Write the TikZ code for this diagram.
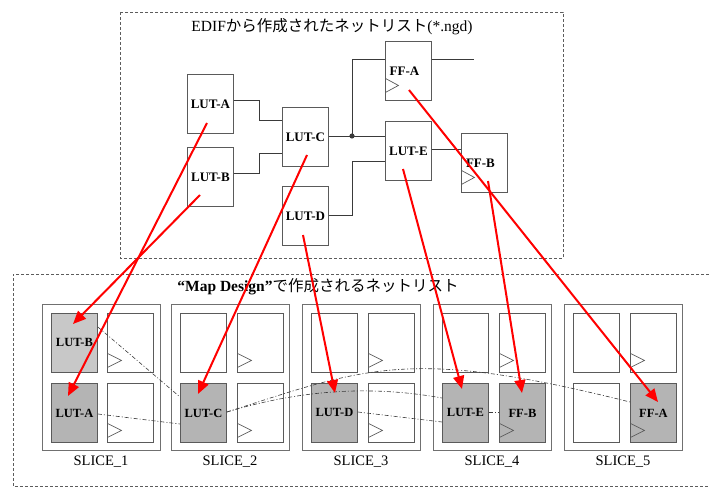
\documentclass[tikz,border=0pt]{standalone}
\usepackage{fontspec}
\setmainfont{Liberation Serif}
\newfontfamily\jpfont{Noto Sans CJK JP}
\usetikzlibrary{arrows.meta,calc}

\definecolor{boxgray}{HTML}{5A5A5A}
\definecolor{slicegray}{HTML}{707070}
\definecolor{wiregray}{HTML}{3A3A3A}
\definecolor{lutfill}{HTML}{B4B4B4}
\definecolor{lutfillB}{HTML}{C8C8C8}
\definecolor{netred}{HTML}{FF0000}
\definecolor{dashgray}{HTML}{5C5C5C}
\definecolor{netgray}{HTML}{3C3C3C}

\tikzset{
  topblk/.style={draw=boxgray, line width=0.9pt, minimum width=46pt, minimum height=59pt,
    inner sep=0pt, anchor=north west, font=\bfseries\fontsize{13}{15}\selectfont},
  clktop/.style={path picture={\draw[boxgray,line width=0.7pt]
    ([yshift=8pt]path picture bounding box.south west) -- ++(13pt,7pt) -- ++(-13pt,7pt);}},
  cell/.style={draw=boxgray, line width=0.9pt, fill=white, minimum width=46pt, minimum height=59pt,
    inner sep=0pt, anchor=north west, font=\bfseries\fontsize{12.5}{14}\selectfont},
  clkcell/.style={path picture={\draw[boxgray,line width=0.7pt]
    ([yshift=5pt]path picture bounding box.south west) -- ++(14pt,7pt) -- ++(-14pt,7pt);}},
  usedA/.style={fill=lutfill},
  usedB/.style={fill=lutfillB},
  slicebox/.style={draw=slicegray, line width=0.9pt, minimum width=118pt, minimum height=146pt,
    inner sep=0pt, anchor=north west},
  slicelbl/.style={font=\fontsize{14.5}{16}\selectfont, inner sep=0pt},
  wire/.style={draw=wiregray, line width=0.9pt},
  net/.style={draw=netgray, line width=0.6pt, dash pattern=on 4pt off 2pt on 1pt off 2pt},
  redarr/.style={draw=netred, line width=2pt, -{Triangle[length=13pt,width=11pt]}},
  framebox/.style={draw=dashgray, line width=0.8pt, dash pattern=on 3pt off 2pt},
}

\begin{document}
\begin{tikzpicture}[x=1pt,y=-1pt]
\useasboundingbox (0,0) rectangle (709,489);

% ---------- upper frame ----------
\draw[framebox] (120,12) rectangle (563,258);
\node (ttl1) at (332,27) {\fontsize{15.5}{18}\selectfont EDIF{\jpfont から作成されたネットリスト}(*.ngd)};

\node[topblk] (lutA) at (187,74) {LUT-A};
\node[topblk] (lutB) at (187,147) {LUT-B};
\node[topblk] (lutC) at (282,107) {LUT-C};
\node[topblk] (lutD) at (282,186) {LUT-D};
\node[topblk,clktop] (ffA) at (385,41) {FF-A\kern8pt};
\node[topblk] (lutE) at (385,121) {LUT-E};
\node[topblk,clktop] (ffB) at (461,133) {FF-B\kern8pt};

\coordinate (jn) at (352,136);
\coordinate (outA) at (474,59);

\draw[wire] ($(lutA.north east)+(0,26)$) -| (259,120) -- ($(lutC.north west)+(0,13)$);
\draw[wire] ($(lutB.north east)+(0,26)$) -| (259,153) -- ($(lutC.north west)+(0,46)$);
\draw[wire] ($(lutC.north east)+(0,29)$) -- ($(lutE.north west)+(0,15)$);
\draw[wire] (jn) |- ($(ffA.north west)+(0,18)$);
\draw[wire] ($(ffA.north east)+(0,18)$) -- (outA);
\draw[wire] ($(lutD.north east)+(0,29)$) -| (352,161) -- ($(lutE.north west)+(0,40)$);
\draw[wire] ($(lutE.north east)+(0,28)$) -- ($(ffB.north west)+(0,16)$);
\fill[wiregray] (jn) circle (2.6pt);

% ---------- lower frame ----------
\draw[framebox] (709,274) -- (13,274) -- (13,486) -- (709,486);
\node (ttl2) at (318,287) {\fontsize{15.5}{18}\selectfont\textbf{“Map Design”}{\jpfont で作成されるネットリスト}};

% slices
\node[slicebox] (s1) at (42,304) {};
\node[slicebox] (s2) at (171,304) {};
\node[slicebox] (s3) at (302,304) {};
\node[slicebox] (s4) at (433,304) {};
\node[slicebox] (s5) at (564,304) {};

\node[cell,usedB] (s1tl) at (51,313) {LUT-B};
\node[cell,clkcell] (s1tr) at (107,313) {};
\node[cell,usedA] (s1bl) at (51,383) {LUT-A};
\node[cell,clkcell] (s1br) at (107,383) {};

\node[cell] (s2tl) at (180,313) {};
\node[cell,clkcell] (s2tr) at (237,313) {};
\node[cell,usedA] (s2bl) at (180,383) {LUT-C};
\node[cell,clkcell] (s2br) at (237,383) {};

\node[cell] (s3tl) at (311,313) {};
\node[cell,clkcell] (s3tr) at (368,313) {};
\node[cell,usedA] (s3bl) at (311,383) {LUT-D};
\node[cell,clkcell] (s3br) at (368,383) {};

\node[cell] (s4tl) at (442,313) {};
\node[cell,clkcell] (s4tr) at (499,313) {};
\node[cell,usedA] (s4bl) at (442,383) {LUT-E};
\node[cell,usedA,clkcell] (s4br) at (499,383) {FF-B};

\node[cell] (s5tl) at (573,313) {};
\node[cell,clkcell] (s5tr) at (630,313) {};
\node[cell] (s5bl) at (573,383) {};
\node[cell,usedA,clkcell] (s5br) at (630,383) {FF-A};

\node[slicelbl] (l1) at (101,462) {SLICE\_1};
\node[slicelbl] (l2) at (230,462) {SLICE\_2};
\node[slicelbl] (l3) at (361,462) {SLICE\_3};
\node[slicelbl] (l4) at (492,462) {SLICE\_4};
\node[slicelbl] (l5) at (623,462) {SLICE\_5};

% nets after mapping
\draw[net] ($(s1tl.north east)+(0,14)$) -- ($(s2bl.north west)+(0,14)$);
\draw[net] ($(s1bl.north east)+(0,31)$) -- ($(s2bl.north west)+(0,41)$);
\draw[net] ($(s2bl.north east)+(0,29)$) .. controls +(140,-45) and +(-220,-55) .. ($(s5br.north west)+(0,19)$);
\draw[net] ($(s2bl.north east)+(0,29)$) .. controls +(73,-22) and +(-72,-13) .. ($(s4bl.north west)+(0,15)$);
\draw[net] ($(s3bl.north east)+(0,29)$) -- ($(s4bl.north west)+(0,39)$);
\draw[net] ($(s4bl.north east)+(0,29)$) -- ($(s4br.north west)+(0,29)$);

% mapping arrows
\coordinate (sA) at ($(lutA.north west)+(20,49)$);
\coordinate (sB) at ($(lutB.north west)+(13,48)$);
\coordinate (sC) at ($(lutC.north west)+(25,48)$);
\coordinate (sD) at ($(lutD.north west)+(21,49)$);
\coordinate (sE) at ($(lutE.north west)+(18,48)$);
\coordinate (sFB) at ($(ffB.north west)+(27,48)$);
\coordinate (sFA) at ($(ffA.north west)+(24,49)$);

\coordinate (tA) at ($(s1bl.north west)+(17,13)$);
\coordinate (tB) at ($(s1tl.north west)+(22,11)$);
\coordinate (tC) at ($(s2bl.north west)+(18,11)$);
\coordinate (tD) at ($(s3bl.north west)+(24,10)$);
\coordinate (tE) at ($(s4bl.north west)+(20,6)$);
\coordinate (tFB) at ($(s4br.north west)+(23,10)$);
\coordinate (tFA) at ($(s5br.north west)+(28,19)$);

\draw[redarr] (sA) -- (tA);
\draw[redarr] (sB) -- (tB);
\draw[redarr] (sC) -- (tC);
\draw[redarr] (sD) -- (tD);
\draw[redarr] (sE) -- (tE);
\draw[redarr] (sFB) -- (tFB);
\draw[redarr] (sFA) -- (tFA);
\end{tikzpicture}
\end{document}
